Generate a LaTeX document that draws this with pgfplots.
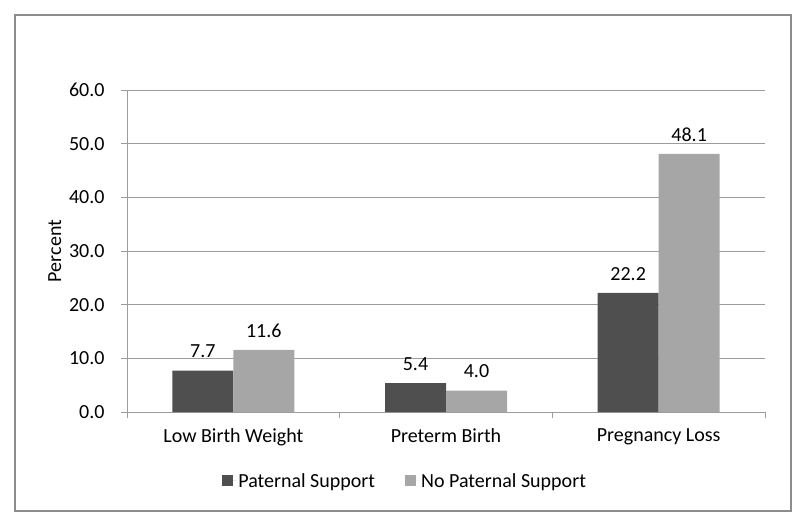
\documentclass[border=0pt]{standalone}
\usepackage{pgfplots}
\pgfplotsset{compat=1.18}
\usepackage{fontspec}
\setmainfont{Carlito}
\definecolor{darkbar}{HTML}{4F4F4F}
\definecolor{lightbar}{HTML}{A6A6A6}
\definecolor{gridc}{HTML}{9C9C9C}
\definecolor{framec}{HTML}{8C8C8C}
\begin{document}
\begin{tikzpicture}[x=1pt,y=1pt]
\path[use as bounding box] (-127,-111) rectangle (673,412);
\draw[framec, line width=1.3pt] (-112,-99) rectangle (664,397);
\begin{axis}[
  at={(0,0)}, anchor=south west,
  scale only axis, width=638pt, height=322pt,
  xmin=-0.5, xmax=2.5, ymin=0, ymax=60,
  ybar=0pt, bar width=61pt,
  font=\fontsize{20}{24}\selectfont,
  axis x line*=bottom, axis y line*=left,
  axis line style={gridc, line width=0.9pt},
  ymajorgrids, grid style={gridc, line width=0.9pt},
  ytick={0,10,20,30,40,50,60},
  yticklabel style={xshift=-13pt, /pgf/number format/.cd, fixed, fixed zerofill, precision=1, assume math mode=true},
  tick align=outside, major tick length=6pt,
  ytick style={gridc, line width=0.9pt},
  xtick={0,1,2},
  xticklabels={Low Birth Weight, Preterm Birth, Pregnancy Loss},
  xticklabel style={yshift=-7pt},
  xtick style={draw=none},
  extra x ticks={-0.5,0.5,1.5,2.5},
  extra x tick labels={},
  extra x tick style={grid=none, xtick style={draw=gridc, line width=0.9pt}},
  ylabel={Percent},
  ylabel style={at={(axis description cs:-0.113,0.5)}, anchor=center},
  nodes near coords={\pgfmathprintnumber[fixed,fixed zerofill,precision=1,assume math mode=true]{\pgfplotspointmeta}},
  every node near coord/.append style={font=\fontsize{20}{24}\selectfont, text=black, yshift=9pt},
  legend style={at={(0.436,-0.214)}, anchor=center, draw=none, legend columns=2,
    font=\fontsize{20}{24}\selectfont,
    /tikz/every even column/.append style={column sep=28pt}},
  legend image code/.code={\fill[#1,draw=none] (0pt,-5.5pt) rectangle (11pt,5.5pt); \path (0pt,0pt) -- (14pt,0pt);},
]
\addplot[fill=darkbar, draw=none] coordinates {(0,7.7) (1,5.4) (2,22.2)};
\addplot[fill=lightbar, draw=none] coordinates {(0,11.6) (1,4.0) (2,48.1)};
\legend{Paternal Support, No Paternal Support}
\end{axis}
\end{tikzpicture}
\end{document}
